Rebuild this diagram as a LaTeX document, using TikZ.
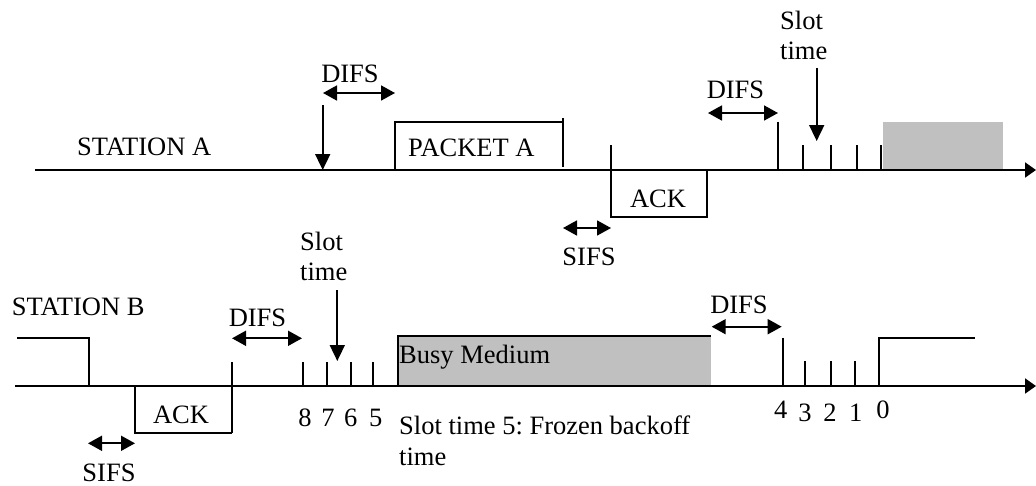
\documentclass[tikz,border=0pt]{standalone}
\usepackage{fontspec}
\setmainfont{Liberation Serif}
\usetikzlibrary{arrows.meta}
\frenchspacing
\definecolor{busygray}{HTML}{C0C0C0}
\tikzset{
  lbl/.style={inner sep=0pt, font=\fontsize{26.5}{30}\selectfont},
  axisline/.style={line width=2pt, -{Triangle[length=11pt,width=15pt]}},
  thin/.style={line width=1.7pt},
  downarr/.style={line width=1.7pt, -{Triangle[length=16pt,width=15pt]}},
  dblarr/.style={line width=1.7pt, {Triangle[length=14pt,width=15pt]}-{Triangle[length=14pt,width=15pt]}},
}
\begin{document}
\begin{tikzpicture}[x=1pt,y=-1pt]
\useasboundingbox (0,0) rectangle (1036,485);

% ---------------- STATION A ----------------
\coordinate (aS) at (35,170);
\coordinate (aE) at (1036,170);
\fill[busygray] (882.7,121.7) rectangle (1003,170);
\draw[axisline] (aS) -- (aE);
\node[lbl, anchor=base west] (stA) at (77,155) {STATION A};

% first DIFS
\coordinate (d1top) at (322.7,105);
\coordinate (d1bot) at (322.7,170);
\draw[downarr] (d1top) -- (d1bot);
\coordinate (d1l) at (323,93);
\coordinate (d1r) at (395,93);
\draw[dblarr] (d1l) -- (d1r);
\node[lbl, anchor=base] (difsA1) at (350,82) {DIFS};

% packet A
\draw[thin] (395,170) |- (562.7,121.7);
\draw[thin] (562.7,118.3) -- (562.7,166.7);
\node[lbl, anchor=base west] (pktA) at (408,156.7) {PACKET A};

% ACK A
\draw[thin] (610.7,145) |- (706.7,217) -- (706.7,170);
\node[lbl, anchor=base] (ackA) at (658,207) {ACK};

% SIFS A
\coordinate (s1l) at (563,228);
\coordinate (s1r) at (611,228);
\draw[dblarr] (s1l) -- (s1r);
\node[lbl, anchor=base] (sifsA) at (589,265) {SIFS};

% second DIFS
\coordinate (d2l) at (708,113);
\coordinate (d2r) at (778,113);
\draw[dblarr] (d2l) -- (d2r);
\node[lbl, anchor=base] (difsA2) at (735.5,98) {DIFS};
\draw[thin] (778,121.7) -- (778,170);
\foreach \x in {802.7,830.7,857.3,880.7} \draw[thin] (\x,145) -- (\x,170);

% slot time A
\node[lbl, anchor=north west, align=left] (slotA) at (780,10.5) {Slot\\time};
\coordinate (slAtop) at (816.7,68);
\coordinate (slAbot) at (816.7,141);
\draw[downarr] (slAtop) -- (slAbot);

% ---------------- STATION B ----------------
\coordinate (bS) at (15,386);
\coordinate (bE) at (1036,386);
\fill[busygray] (397.7,336) rectangle (711,386);
\draw[axisline] (bS) -- (bE);
\node[lbl, anchor=base west] (stB) at (11.7,315) {STATION B};

% left pulse
\draw[thin] (17,338) -| (89,386);

% ACK B
\draw[thin] (135,386) |- (232,433);
\draw[thin] (232,362) -- (232,433);
\node[lbl, anchor=base] (ackB) at (181,423.3) {ACK};

% SIFS B
\coordinate (s2l) at (88,443.3);
\coordinate (s2r) at (135,443.3);
\draw[dblarr] (s2l) -- (s2r);
\node[lbl, anchor=base] (sifsB) at (109,481) {SIFS};

% DIFS B1
\coordinate (d3l) at (232,338.3);
\coordinate (d3r) at (302,338.3);
\draw[dblarr] (d3l) -- (d3r);
\node[lbl, anchor=base] (difsB1) at (257.5,326.7) {DIFS};
\foreach \x in {302.7,326.7,350.7,372.7} \draw[thin] (\x,362) -- (\x,386);

% slot time B
\node[lbl, anchor=north west, align=left] (slotB) at (300,231.5) {Slot\\time};
\coordinate (slBtop) at (337.3,290);
\coordinate (slBbot) at (337.3,361);
\draw[downarr] (slBtop) -- (slBbot);

% numbers 8 7 6 5
\node[lbl, anchor=base] (n8) at (305,426.7) {8};
\node[lbl, anchor=base] (n7) at (328,426.7) {7};
\node[lbl, anchor=base] (n6) at (350.7,426.7) {6};
\node[lbl, anchor=base] (n5) at (375.7,426.7) {5};

% busy medium
\draw[thin] (397.7,386) |- (711,336);
\node[lbl, anchor=base west] (busy) at (399,363.3) {Busy Medium};
\node[lbl, anchor=north west, align=left, font=\fontsize{26.5}{31.7}\selectfont] (frozen) at (399,415.3) {Slot time 5: Frozen backoff\\time};

% DIFS B2
\coordinate (d4l) at (711.7,326.7);
\coordinate (d4r) at (781.7,326.7);
\draw[dblarr] (d4l) -- (d4r);
\node[lbl, anchor=base] (difsB2) at (739,313.3) {DIFS};
\draw[thin] (782.7,337.7) -- (782.7,386);
\foreach \x in {805,830.7,855} \draw[thin] (\x,361) -- (\x,386);

% right pulse
\draw[thin] (879,386) |- (975,337.7);

% numbers 4 3 2 1 0
\node[lbl, anchor=base] (n4) at (780.7,418.3) {4};
\node[lbl, anchor=base] (n3) at (805,421.7) {3};
\node[lbl, anchor=base] (n2) at (830,421.7) {2};
\node[lbl, anchor=base] (n1) at (855.7,421.7) {1};
\node[lbl, anchor=base] (n0) at (883,418.3) {0};
\end{tikzpicture}
\end{document}
